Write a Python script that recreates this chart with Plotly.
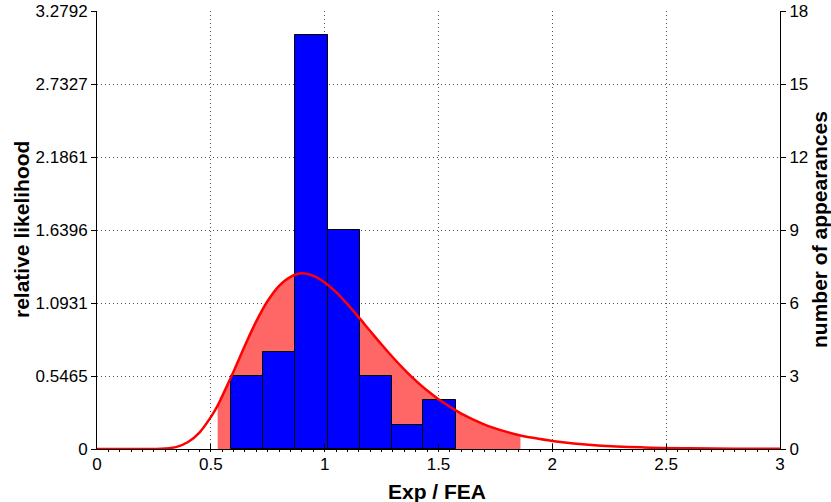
import plotly.graph_objects as go

# ---- data ----
bin_edges = [0.588, 0.730, 0.871, 1.013, 1.154, 1.295, 1.434, 1.577]
counts = [3, 4, 17, 9, 3, 1, 2]

curve_x = [0.0, 0.1, 0.2, 0.25, 0.3, 0.35, 0.4, 0.45, 0.5, 0.53, 0.55, 0.6, 0.65, 0.7, 0.75,
           0.8, 0.85, 0.9, 0.95, 1.0, 1.05, 1.1, 1.15, 1.2, 1.25, 1.3, 1.35, 1.4, 1.45,
           1.5, 1.6, 1.7, 1.8, 1.86, 1.9, 2.0, 2.2, 2.4, 2.6, 2.8, 3.0]
curve_y = [0.0, 0.0, 0.0, 0.0005, 0.0035, 0.016, 0.052, 0.123, 0.239, 0.325, 0.396, 0.581,
           0.775, 0.957, 1.110, 1.222, 1.289, 1.315, 1.296, 1.247, 1.174, 1.084, 0.985,
           0.883, 0.782, 0.685, 0.595, 0.512, 0.438, 0.372, 0.265, 0.185, 0.128, 0.101,
           0.088, 0.060, 0.027, 0.012, 0.0056, 0.0025, 0.0012]

fill_lo, fill_hi = 0.53, 1.86

left_ticks = [0, 0.5465, 1.0931, 1.6396, 2.1861, 2.7327, 3.2792]
left_labels = ["0", "0.5465", "1.0931", "1.6396", "2.1861", "2.7327", "3.2792"]
right_ticks = [0, 3, 6, 9, 12, 15, 18]
x_ticks = [0, 0.5, 1, 1.5, 2, 2.5, 3]
x_labels = ["0", "0.5", "1", "1.5", "2", "2.5", "3"]

x_title = "Exp / FEA"
left_title = "relative likelihood"
right_title = "number of appearances"

# ---- derived ----
centers = [(a + b) / 2 for a, b in zip(bin_edges[:-1], bin_edges[1:])]
widths = [b - a for a, b in zip(bin_edges[:-1], bin_edges[1:])]
fx = [x for x in curve_x if fill_lo <= x <= fill_hi]
fy = [y for x, y in zip(curve_x, curve_y) if fill_lo <= x <= fill_hi]

FONT = "Liberation Sans, Arial, sans-serif"
GRID = dict(showgrid=True, gridcolor="#505050", griddash="1px,3px", gridwidth=1)

fig = go.Figure()
fig.add_trace(go.Scatter(x=fx, y=fy, mode="lines", line=dict(width=0, shape="spline"),
                         fill="tozeroy", fillcolor="#FF6666", yaxis="y", hoverinfo="skip",
                         showlegend=False))
fig.add_trace(go.Bar(x=centers, y=counts, width=widths, yaxis="y2",
                     marker=dict(color="#0000FF", line=dict(color="black", width=1)),
                     showlegend=False))
fig.add_trace(go.Scatter(x=curve_x, y=curve_y, mode="lines", yaxis="y3",
                         line=dict(color="#FF0000", width=2.5, shape="spline"),
                         showlegend=False))

axis_common = dict(showline=True, linecolor="black", linewidth=1, zeroline=False,
                   automargin=False, tickcolor="black",
                   tickfont=dict(family=FONT, size=17, color="black"))

fig.update_layout(
    width=831, height=502,
    margin=dict(l=97, r=51, t=11, b=53),
    paper_bgcolor="white", plot_bgcolor="white",
    bargap=0,
    xaxis=dict(range=[0, 3], tickvals=x_ticks, ticktext=x_labels, ticks="inside", ticklen=5,
               minor=dict(ticks="outside", ticklen=2, tickcolor="black", dtick=0.05, showgrid=False),
               **GRID, **axis_common),
    yaxis=dict(range=[0, 3.2792], tickvals=left_ticks, ticktext=left_labels, ticks="outside",
               ticklen=5, **GRID, **axis_common),
    yaxis2=dict(range=[0, 18], tickvals=right_ticks, overlaying="y", side="right",
                ticks="outside", ticklen=5, showgrid=False, **axis_common),
    yaxis3=dict(range=[0, 3.2792], overlaying="y", visible=False),
    annotations=[
        dict(text="<b>" + x_title + "</b>", xref="paper", yref="paper", x=0.4985, y=0,
             yshift=-42, xanchor="center", yanchor="middle", showarrow=False,
             font=dict(family=FONT, size=21, color="black")),
        dict(text="<b>" + left_title + "</b>", xref="paper", yref="paper", x=0, y=0.5,
             xshift=-76, xanchor="center", yanchor="middle", showarrow=False, textangle=-90,
             font=dict(family=FONT, size=21, color="black")),
        dict(text="<b>" + right_title + "</b>", xref="paper", yref="paper", x=1, y=0.5,
             xshift=39, xanchor="center", yanchor="middle", showarrow=False, textangle=-90,
             font=dict(family=FONT, size=21, color="black")),
    ],
)

fig.write_html("out.html",
               config={"displayModeBar": False},
               post_script="document.body.style.margin='0';document.body.style.padding='0';"
                           "document.documentElement.style.overflow='hidden';")
